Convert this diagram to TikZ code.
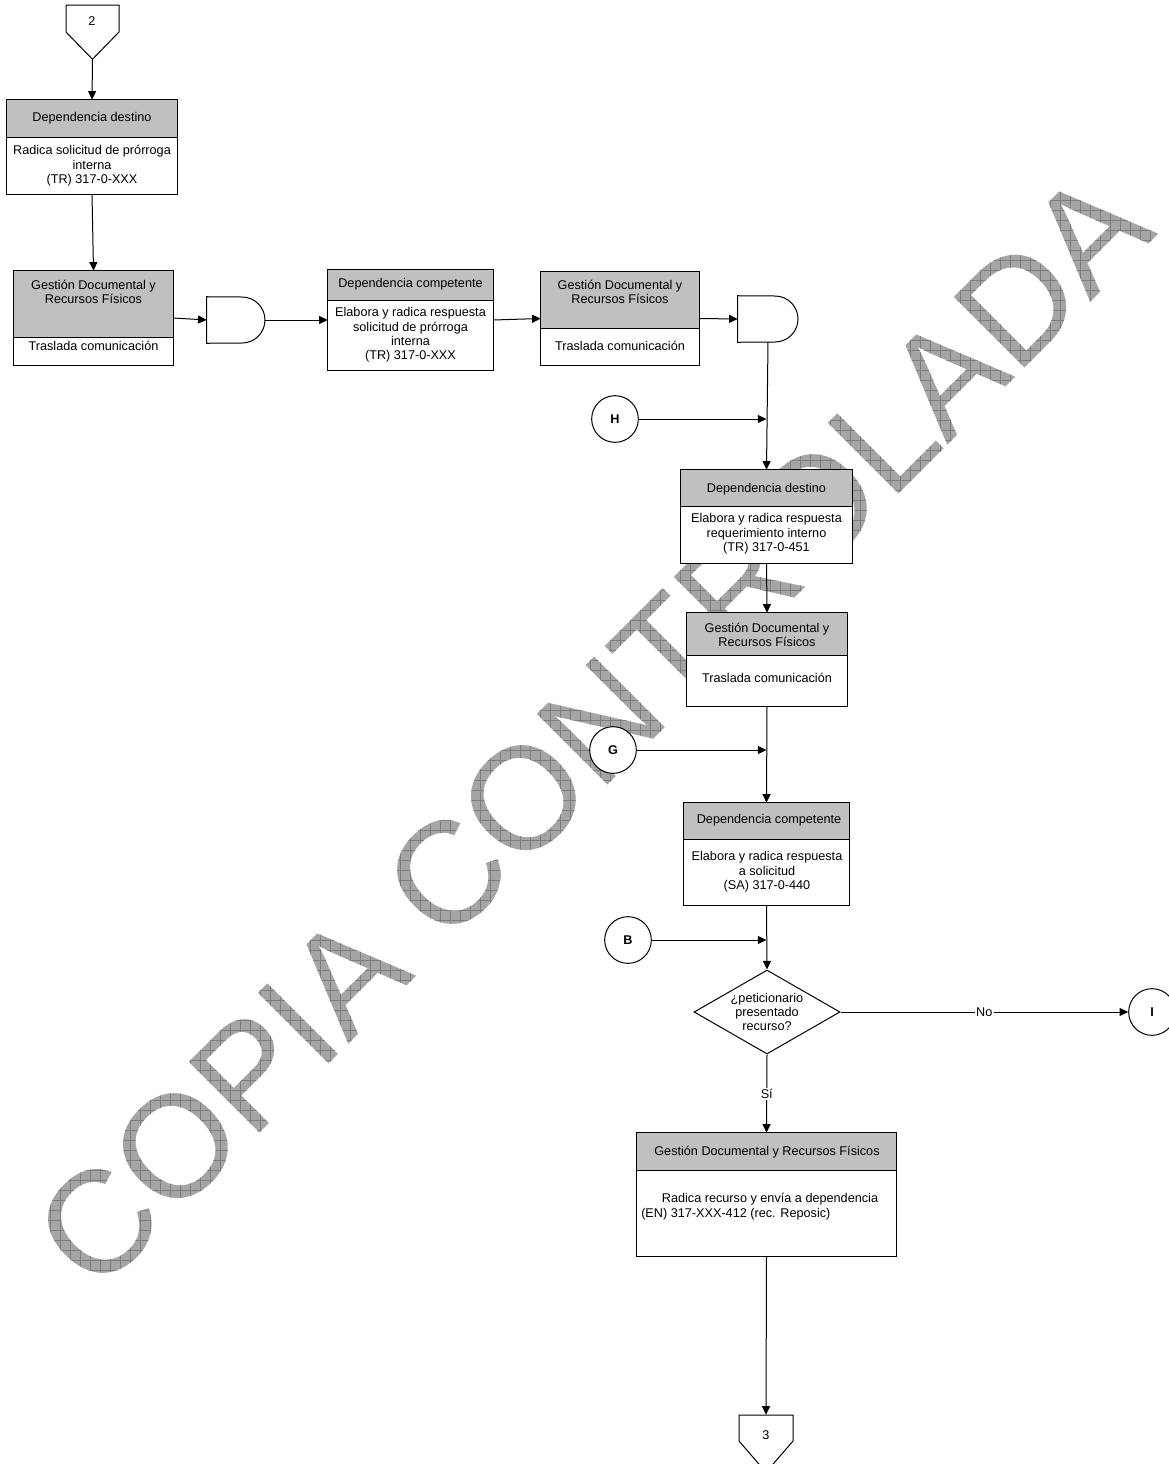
\documentclass[tikz,border=0pt]{standalone}
\usepackage{fontspec}
\setmainfont{Liberation Sans}
\usetikzlibrary{arrows.meta,shapes.geometric,fit,fadings}

\definecolor{hdrgray}{RGB}{192,192,192}
\definecolor{wmgray}{RGB}{165,165,165}
\definecolor{wmline}{RGB}{125,125,125}

\tikzset{
  ln/.style={line width=0.75pt, draw=black},
  arr/.style={ln, -{Triangle[length=6.5pt,width=6pt]}},
  lbl/.style={font=\fontsize{9.5}{10.8}\selectfont, align=center, inner sep=0pt},
  conn/.style={circle, ln, fill=white, minimum size=35pt, inner sep=0pt,
               font=\bfseries\fontsize{9.5}{10}\selectfont},
  onln/.style={fill=white, inner sep=1pt, font=\fontsize{9.5}{10}\selectfont},
  wmark/.style={path fading=wmfade, fit fading=false,
                fading transform={shift={(628,765)}}},
}

% mask for the hatched watermark lettering, centred on its baseline midpoint
\begin{tikzfadingfrompicture}[name=wmfade]
  \path (-800pt,-800pt) rectangle (800pt,800pt);
  \node[rotate=45, anchor=base, inner sep=0pt, text=transparent!0,
        font=\fontsize{109}{109}\selectfont] (wmtext) at (0,0) {COPIA CONTROLADA};
\end{tikzfadingfrompicture}

% process box: name, left, top, right, bottom, bottom of the grey header
\newcommand\procbox[6]{%
  \node[inner sep=0pt, fill=white, fit={(#2,#3) (#4,#5)}] (#1) {};
  \fill[hdrgray] (#2,#3) rectangle (#4,#6);
  \draw[ln] (#2,#6) -- (#4,#6);
  \draw[ln] (#1.north west) rectangle (#1.south east);
}

\begin{document}
\begin{tikzpicture}[x=0.75pt, y=-0.75pt]
\useasboundingbox (0,0) rectangle (1169,1464);
\fill[white] (0,0) rectangle (1169,1464);

% watermark: grey fill crossed by a square grid, seen through the lettering
\fill[wmgray, wmark] (0,0) rectangle (1169,1464);
\draw[wmline, line width=0.5pt, wmark] (0,0) grid[step=7.5pt] (1169,1464);

% off-page connector 2
\node[inner sep=0pt, fit={(66,5) (119,59)}] (pg2) {};
\draw[ln, fill=white] (66,5) -- (119,5) -- (119,32) -- (pg2.south) -- (66,32) -- cycle;
\node[lbl] (pg2t) at (92,21) {2};

% process boxes
\procbox{b1}{7}{100}{177}{194}{137}
\node[lbl] (b1h) at (92,118.5) {Dependencia destino};
\node[lbl] (b1t) at (92,166) {Radica solicitud de prórroga\\interna\\(TR) 317-0-XXX};

\procbox{b2}{14}{271}{173}{365}{337}
\node[lbl] (b2h) at (93.5,292) {Gestión Documental y\\Recursos Físicos};
\node[lbl] (b2t) at (93.5,346) {Traslada comunicación};

\procbox{b3}{328}{270}{493}{370}{300}
\node[lbl] (b3h) at (410.5,284) {Dependencia competente};
\node[lbl] (b3t) at (410.5,335) {Elabora y radica respuesta\\solicitud de prórroga\\interna\\(TR) 317-0-XXX};

\procbox{b4}{541}{272}{699}{365}{328}
\node[lbl] (b4h) at (620,292) {Gestión Documental y\\Recursos Físicos};
\node[lbl] (b4t) at (620,346) {Traslada comunicación};

\procbox{b5}{681}{470}{852}{563}{506}
\node[lbl] (b5h) at (766.5,489) {Dependencia destino};
\node[lbl] (b5t) at (766.5,534) {Elabora y radica respuesta\\requerimiento interno\\(TR) 317-0-451};

\procbox{b6}{687}{613}{847}{706}{655}
\node[lbl] (b6h) at (767,635) {Gestión Documental y\\Recursos Físicos};
\node[lbl] (b6t) at (767,678) {Traslada comunicación};

\procbox{b7}{684}{803}{849}{905}{839}
\node[lbl] (b7h) at (769,820) {Dependencia competente};
\node[lbl] (b7t) at (767,872) {Elabora y radica respuesta\\a solicitud\\(SA) 317-0-440};

\procbox{b8}{637}{1133}{896}{1256}{1170}
\node[lbl] (b8h) at (767,1152) {Gestión Documental y Recursos Físicos};
\node[lbl] (b8t) at (770,1199) {Radica recurso y envía a dependencia};
\node[lbl, anchor=west] (b8u) at (641,1214) {(EN) 317-XXX-412 (rec. Reposic)};

% gates
\node[inner sep=0pt, fit={(207,297) (265,343)}] (g1) {};
\draw[ln, fill=white] (g1.north west) -- (242,297)
  arc[start angle=90, end angle=-90, radius=17.25pt] -- (g1.south west) -- cycle;
\node[inner sep=0pt, fit={(738,296) (798,342)}] (g2) {};
\draw[ln, fill=white] (g2.north west) -- (775,296)
  arc[start angle=90, end angle=-90, radius=17.25pt] -- (g2.south west) -- cycle;
\coordinate (g2b) at (768,342);

% decision
\node[diamond, ln, fill=white, minimum width=109.5pt, minimum height=63pt,
      inner sep=0pt] (d) at (767,1012) {};
\node[lbl] (dt) at (767,1012) {¿peticionario\\presentado\\recurso?};

% on-page connectors
\node[conn] (H) at (615,419) {H};
\node[conn] (G) at (613,750) {G};
\node[conn] (B) at (628,940) {B};
\node[conn] (I) at (1152,1012) {I};

% off-page connector 3
\node[inner sep=0pt, fit={(739,1415) (793,1472)}] (pg3) {};
\draw[ln, fill=white] (739,1415) -- (793,1415) -- (793,1441) -- (pg3.south) -- (739,1441) -- cycle;
\node[lbl] (pg3t) at (766,1435) {3};

% flow
\draw[arr] (pg2.south) -- (b1.north);
\draw[arr] (b1.south) -- (b2.north);
\draw[arr] (b2.east) -- (g1.west);
\draw[arr] (g1.east) -- (b3.west);
\draw[arr] (b3.east) -- (b4.west);
\draw[arr] (b4.east) -- (g2.west);
\draw[arr] (g2b) -- (b5.north);
\draw[arr] (H) -- (H -| b5.north);
\draw[arr] (b5.south) -- (b6.north);
\draw[arr] (b6.south) -- (b7.north);
\draw[arr] (G) -- (G -| b7.north);
\draw[arr] (b7.south) -- (d.north);
\draw[arr] (B) -- (B -| b7.south);
\draw[arr] (d.east) -- node[onln] {No} (I.west);
\draw[arr] (d.south) -- node[onln] {Sí} (b8.north);
\draw[arr] (b8.south) -- (pg3.north);
\end{tikzpicture}
\end{document}
